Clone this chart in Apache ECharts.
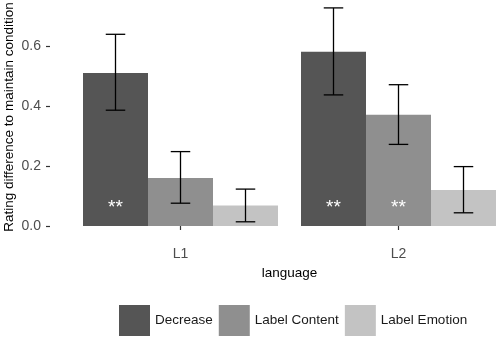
<!DOCTYPE html>
<html>
<head>
<meta charset="utf-8">
<script src="https://cdn.jsdelivr.net/npm/echarts@6/dist/echarts.min.js"></script>
<style>
  html, body { margin: 0; padding: 0; background: #fff; }
  #chart { width: 500px; height: 339px; }
</style>
</head>
<body>
<div id="chart"></div>
<script>
// data
var languages = ['L1', 'L2']
var conditions = ['Decrease', 'Label Content', 'Label Emotion']
var decreaseMean = [0.51, 0.581]
var decreaseLow = [0.386, 0.437]
var decreaseHigh = [0.639, 0.727]
var contentMean = [0.16, 0.371]
var contentLow = [0.076, 0.272]
var contentHigh = [0.248, 0.471]
var emotionMean = [0.068, 0.12]
var emotionLow = [0.014, 0.044]
var emotionHigh = [0.123, 0.198]
var decreaseSig = ['**', '**']
var contentSig = ['', '**']
var emotionSig = ['', '']
var yTicks = [0, 0.2, 0.4, 0.6]

var colors = ['#555555', '#8f8f8f', '#c3c3c3']
var barW = 65

var means = [decreaseMean, contentMean, emotionMean]
var lows = [decreaseLow, contentLow, emotionLow]
var highs = [decreaseHigh, contentHigh, emotionHigh]
var sigs = [decreaseSig, contentSig, emotionSig]

function errorBars(k) {
  return {
    name: 'err' + k,
    type: 'custom',
    z: 5,
    data: languages.map(function (l, i) {
      return [i, lows[k][i], highs[k][i]]
    }),
    renderItem: function (params, api) {
      var lo = api.coord([api.value(0), api.value(1)])
      var hi = api.coord([api.value(0), api.value(2)])
      var x = lo[0] + (k - 1) * barW
      var half = barW * 0.15
      var st = { stroke: '#000', lineWidth: 1.3 }
      return {
        type: 'group',
        children: [
          { type: 'line', shape: { x1: x, y1: lo[1], x2: x, y2: hi[1] }, style: st },
          { type: 'line', shape: { x1: x - half, y1: lo[1], x2: x + half, y2: lo[1] }, style: st },
          { type: 'line', shape: { x1: x - half, y1: hi[1], x2: x + half, y2: hi[1] }, style: st },
        ],
      }
    },
  }
}

var series = []
conditions.forEach(function (c, k) {
  series.push({
    name: c,
    type: 'bar',
    barWidth: barW,
    barGap: '0%',
    itemStyle: { color: colors[k] },
    data: means[k],
    label: {
      show: true,
      position: 'insideBottom',
      distance: 9,
      color: '#fff',
      fontSize: 19,
      fontFamily: 'Arial, Liberation Sans, sans-serif',
      formatter: function (p) {
        return sigs[k][p.dataIndex]
      },
    },
  })
})
conditions.forEach(function (c, k) {
  series.push(errorBars(k))
})

var myChart = echarts.init(document.getElementById('chart'))
myChart.setOption({
  animation: false,
  textStyle: { fontFamily: 'Arial, Liberation Sans, sans-serif' },
  grid: { left: 71.5, top: 1, width: 436, height: 234, outerBoundsMode: 'none', containLabel: false },
  legend: {
    data: conditions,
    left: 119,
    top: 305,
    padding: 0,
    itemWidth: 31,
    itemHeight: 31,
    itemGap: 6,
    icon: 'rect',
    textStyle: { fontSize: 13.5, color: '#1a1a1a' },
  },
  xAxis: {
    type: 'category',
    data: languages,
    offset: 3,
    axisLine: { show: false },
    axisTick: { show: true, alignWithLabel: true, length: 4, lineStyle: { color: '#333', width: 1.2 } },
    axisLabel: { color: '#4d4d4d', fontSize: 14, margin: 9 },
    name: 'language',
    nameLocation: 'middle',
    nameGap: 28,
    nameTextStyle: { color: '#000', fontSize: 13.5 },
  },
  yAxis: {
    type: 'value',
    min: -0.03,
    max: 0.75,
    offset: 21.5,
    splitLine: { show: false },
    axisLine: { show: false },
    axisTick: { show: true, length: 4, customValues: yTicks, lineStyle: { color: '#333', width: 1.2 } },
    axisLabel: {
      color: '#4d4d4d',
      fontSize: 14,
      margin: 9,
      customValues: yTicks,
      formatter: function (v) {
        return v.toFixed(1)
      },
    },
  },
  graphic: [
    {
      type: 'text',
      x: 9,
      y: 117,
      rotation: Math.PI / 2,
      style: {
        text: 'Rating difference to maintain condition',
        fontSize: 13.5,
        fill: '#000',
        align: 'center',
        verticalAlign: 'middle',
        fontFamily: 'Arial, Liberation Sans, sans-serif',
      },
    },
  ],
  series: series,
})
</script>
</body>
</html>
